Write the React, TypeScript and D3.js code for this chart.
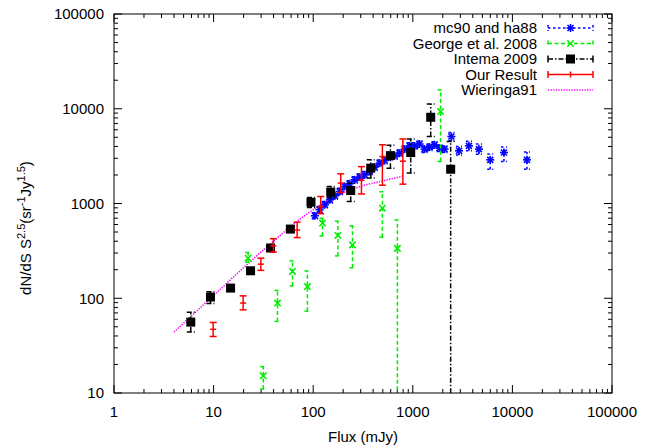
import React from 'react';
import * as d3 from 'd3';

// ---- data ----
const xTicks = [1, 10, 100, 1000, 10000, 100000];
const yTicks = [10, 100, 1000, 10000, 100000];

const mcS = [104, 116, 131, 147, 165, 185, 207, 232, 261, 293, 329, 369, 414, 465, 522, 586, 657, 738, 828, 929, 1042, 1170, 1313, 1473, 1653, 1855, 2080, 2440, 2910, 3660, 4610, 5990, 8220, 14000];
const mcN = [742, 859, 968, 1093, 1205, 1340, 1513, 1615, 1780, 1900, 2010, 2180, 2420, 2670, 2840, 3135, 3190, 3400, 3750, 4060, 4060, 4240, 3750, 3940, 4160, 3840, 3750, 5090, 3600, 4060, 3750, 2890, 3450, 2890];
const mcLo = [690, 800, 900, 1010, 1110, 1240, 1400, 1490, 1640, 1750, 1850, 2010, 2230, 2460, 2610, 2880, 2930, 3130, 3450, 3730, 3730, 3900, 3450, 3620, 3830, 3530, 3450, 4600, 3250, 3600, 3300, 2300, 2770, 2300];
const mcHi = [800, 930, 1050, 1180, 1300, 1450, 1630, 1740, 1920, 2050, 2170, 2350, 2610, 2880, 3070, 3390, 3450, 3670, 4050, 4390, 4390, 4580, 4050, 4250, 4490, 4150, 4050, 5600, 4000, 4550, 4250, 3340, 3950, 3500];

const geoS = [22.2, 31.5, 43.8, 62, 87.5, 124, 177, 248, 495, 700, 1900];
const geoN = [265, 15.2, 89, 192, 133, 621, 460, 366, 893, 336, 9330];
const geoLo = [240, 11, 57, 135, 73, 455, 280, 210, 440, 1, 2770];
const geoHi = [304, 19, 121, 248, 194, 700, 650, 580, 1330, 670, 15800];

const intS = [5.9, 9.3, 14.8, 23.5, 37.3, 59, 95, 150, 238, 378, 596, 953, 1513, 2400];
const intN = [56, 103, 128, 195, 339, 537, 1030, 1320, 1370, 2360, 3200, 3450, 8130, 2300];
const intLo = [44, 88, 120, 185, 315, 500, 910, 1140, 1050, 1860, 2360, 2100, 5100, 1];
const intHi = [71, 117, 137, 205, 365, 580, 1160, 1510, 1640, 2900, 4110, 4800, 11200, 4500];

const ourS = [9.9, 19.8, 29.8, 39.8, 69, 119, 189, 305, 495, 795];
const ourN = [47, 89, 229, 358, 525, 929, 1640, 1760, 3130, 2800];
const ourLo = [39.5, 75.5, 197, 307, 437, 780, 1306, 1260, 1560, 1600];
const ourHi = [55.5, 106, 265, 425, 635, 1185, 2057, 2450, 4170, 4800];

const wS = [4, 10, 20, 40, 73, 116, 185, 294, 465, 800];
const wN = [44, 107, 210, 400, 680, 950, 1250, 1510, 1700, 1950];

const legendLabels = ['mc90 and ha88', 'George et al. 2008', 'Intema 2009', 'Our Result', 'Wieringa91'];

// ---- layout ----
const W = 650, H = 445;
const L = 114, R = 612, T = 14, B = 393;
const FONT = 'Liberation Sans, Arial, Helvetica, sans-serif';

const x = d3.scaleLog().domain([1, 100000]).range([L, R]);
const y = d3.scaleLog().domain([10, 100000]).range([B, T]);

const BLUE = '#0000ff', GREEN = '#00ee00', BLACK = '#000000', RED = '#ff0000', MAG = '#ff00ff';

type Style = { color: string; dash?: string; cap: number };

function ErrBars({ S, N, lo, hi, st }: { S: number[]; N: number[]; lo: number[]; hi: number[]; st: Style }) {
  return (
    <g stroke={st.color} strokeWidth={1.5} strokeDasharray={st.dash} fill="none">
      {S.map((s, i) => {
        const px = x(s);
        const y1 = y(lo[i]);
        const y2 = y(hi[i]);
        return (
          <g key={i}>
            <line x1={px} x2={px} y1={y1} y2={y2} />
            <line x1={px - st.cap} x2={px + st.cap} y1={y1} y2={y1} />
            <line x1={px - st.cap} x2={px + st.cap} y1={y2} y2={y2} />
          </g>
        );
      })}
    </g>
  );
}

function Star({ cx, cy, r, color }: { cx: number; cy: number; r: number; color: string }) {
  const d = r * 0.75;
  return (
    <g stroke={color} strokeWidth={1.6}>
      <line x1={cx - r} x2={cx + r} y1={cy} y2={cy} />
      <line x1={cx} x2={cx} y1={cy - r} y2={cy + r} />
      <line x1={cx - d} x2={cx + d} y1={cy - d} y2={cy + d} />
      <line x1={cx - d} x2={cx + d} y1={cy + d} y2={cy - d} />
    </g>
  );
}

function Cross({ cx, cy, r, color }: { cx: number; cy: number; r: number; color: string }) {
  return (
    <g stroke={color} strokeWidth={1.6}>
      <line x1={cx - r} x2={cx + r} y1={cy - r} y2={cy + r} />
      <line x1={cx - r} x2={cx + r} y1={cy + r} y2={cy - r} />
    </g>
  );
}

export default function App() {
  const minorX: number[] = [];
  for (let dec = 1; dec < 100000; dec *= 10) for (let k = 2; k <= 9; k++) minorX.push(dec * k);
  const minorY: number[] = [];
  for (let dec = 10; dec < 100000; dec *= 10) for (let k = 2; k <= 9; k++) minorY.push(dec * k);

  const wLine = d3
    .line<number>()
    .x((_, i) => x(wS[i]))
    .y((d) => y(d))
    .curve(d3.curveMonotoneX)(wN) as string;

  const legX1 = 548, legX2 = 593, legMid = 570.5, legText = 537;
  const legY = [28, 43.5, 59, 74.5, 90];

  return (
    <svg width={W} height={H} style={{ position: 'absolute', left: 0, top: 0, background: '#fff' }} fontFamily={FONT}>
      <defs>
        <clipPath id="plot">
          <rect x={L} y={T} width={R - L} height={B - T} />
        </clipPath>
      </defs>
      <rect x={0} y={0} width={W} height={H} fill="#fff" />

      {/* ticks */}
      <g stroke="#000" strokeWidth={1}>
        {xTicks.map((t) => (
          <g key={'xt' + t}>
            <line x1={x(t)} x2={x(t)} y1={B} y2={B - 8} />
            <line x1={x(t)} x2={x(t)} y1={T} y2={T + 8} />
          </g>
        ))}
        {minorX.map((t) => (
          <g key={'xm' + t}>
            <line x1={x(t)} x2={x(t)} y1={B} y2={B - 4} />
            <line x1={x(t)} x2={x(t)} y1={T} y2={T + 4} />
          </g>
        ))}
        {yTicks.map((t) => (
          <g key={'yt' + t}>
            <line x1={L} x2={L + 8} y1={y(t)} y2={y(t)} />
            <line x1={R} x2={R - 8} y1={y(t)} y2={y(t)} />
          </g>
        ))}
        {minorY.map((t) => (
          <g key={'ym' + t}>
            <line x1={L} x2={L + 4} y1={y(t)} y2={y(t)} />
            <line x1={R} x2={R - 4} y1={y(t)} y2={y(t)} />
          </g>
        ))}
      </g>

      {/* tick labels */}
      <g fontSize={15} fill="#000">
        {xTicks.map((t) => (
          <text key={'xl' + t} x={x(t)} y={417} textAnchor="middle">
            {String(t)}
          </text>
        ))}
        {yTicks.map((t) => (
          <text key={'yl' + t} x={104} y={y(t)} dy="0.35em" textAnchor="end">
            {String(t)}
          </text>
        ))}
      </g>

      {/* axis titles */}
      <text x={363} y={442} textAnchor="middle" fontSize={15}>
        Flux (mJy)
      </text>
      <text transform="translate(31,228) rotate(-90)" textAnchor="middle" fontSize={15}>
        dN/dS S<tspan fontSize={11} dy={-6}>2.5</tspan>
        <tspan dy={6}>(sr</tspan>
        <tspan fontSize={11} dy={-6}>-1</tspan>
        <tspan dy={6}>Jy</tspan>
        <tspan fontSize={11} dy={-6}>1.5</tspan>
        <tspan dy={6}>)</tspan>
      </text>

      {/* data */}
      <g clipPath="url(#plot)">
        <path d={wLine} fill="none" stroke={MAG} strokeWidth={1.6} strokeDasharray="1.3,1.3" />
        <ErrBars S={mcS} N={mcN} lo={mcLo} hi={mcHi} st={{ color: BLUE, dash: '2.5,2.5', cap: 3 }} />
        {mcS.map((s, i) => (
          <Star key={'mc' + i} cx={x(s)} cy={y(mcN[i])} r={4} color={BLUE} />
        ))}
        <ErrBars S={geoS} N={geoN} lo={geoLo} hi={geoHi} st={{ color: GREEN, dash: '4,2.5', cap: 3 }} />
        {geoS.map((s, i) => (
          <Cross key={'ge' + i} cx={x(s)} cy={y(geoN[i])} r={3.2} color={GREEN} />
        ))}
        <ErrBars S={intS} N={intN} lo={intLo} hi={intHi} st={{ color: BLACK, dash: '5,2,1.5,2', cap: 4 }} />
        {intS.map((s, i) => (
          <rect key={'in' + i} x={x(s) - 4.5} y={y(intN[i]) - 4.5} width={9} height={9} fill={BLACK} />
        ))}
        <ErrBars S={ourS} N={ourN} lo={ourLo} hi={ourHi} st={{ color: RED, cap: 3.5 }} />
        {ourS.map((s, i) => (
          <line key={'ou' + i} x1={x(s) - 3} x2={x(s) + 3} y1={y(ourN[i])} y2={y(ourN[i])} stroke={RED} strokeWidth={1.5} />
        ))}
      </g>

      {/* legend */}
      <g fontSize={15}>
        {legendLabels.map((lab, i) => (
          <text key={'lt' + i} x={legText} y={legY[i]} dy="0.35em" textAnchor="end">
            {lab}
          </text>
        ))}
        {/* mc90 */}
        <g stroke={BLUE} strokeWidth={1.5} strokeDasharray="2.5,2.5">
          <line x1={legX1} x2={legX2} y1={legY[0]} y2={legY[0]} />
          <line x1={legX1} x2={legX1} y1={legY[0] - 3} y2={legY[0] + 3} />
          <line x1={legX2} x2={legX2} y1={legY[0] - 3} y2={legY[0] + 3} />
        </g>
        <Star cx={legMid} cy={legY[0]} r={4} color={BLUE} />
        {/* george */}
        <g stroke={GREEN} strokeWidth={1.5} strokeDasharray="4,2.5">
          <line x1={legX1} x2={legX2} y1={legY[1]} y2={legY[1]} />
          <line x1={legX1} x2={legX1} y1={legY[1] - 3} y2={legY[1] + 3} />
          <line x1={legX2} x2={legX2} y1={legY[1] - 3} y2={legY[1] + 3} />
        </g>
        <Cross cx={legMid} cy={legY[1]} r={3.2} color={GREEN} />
        {/* intema */}
        <g stroke={BLACK} strokeWidth={1.5} strokeDasharray="5,2,1.5,2">
          <line x1={legX1} x2={legX2} y1={legY[2]} y2={legY[2]} />
        </g>
        <g stroke={BLACK} strokeWidth={1.5}>
          <line x1={legX1} x2={legX1} y1={legY[2] - 3.5} y2={legY[2] + 3.5} />
          <line x1={legX2} x2={legX2} y1={legY[2] - 3.5} y2={legY[2] + 3.5} />
        </g>
        <rect x={legMid - 4.5} y={legY[2] - 4.5} width={9} height={9} fill={BLACK} />
        {/* our result */}
        <g stroke={RED} strokeWidth={1.5}>
          <line x1={legX1} x2={legX2} y1={legY[3]} y2={legY[3]} />
          <line x1={legX1} x2={legX1} y1={legY[3] - 3.5} y2={legY[3] + 3.5} />
          <line x1={legX2} x2={legX2} y1={legY[3] - 3.5} y2={legY[3] + 3.5} />
          <line x1={legMid} x2={legMid} y1={legY[3] - 3} y2={legY[3] + 3} />
        </g>
        {/* wieringa */}
        <line x1={legX1} x2={legX2} y1={legY[4]} y2={legY[4]} stroke={MAG} strokeWidth={1.6} strokeDasharray="1.3,1.3" />
      </g>

      {/* frame */}
      <rect x={L} y={T} width={R - L} height={B - T} fill="none" stroke="#000" strokeWidth={1} />
    </svg>
  );
}
